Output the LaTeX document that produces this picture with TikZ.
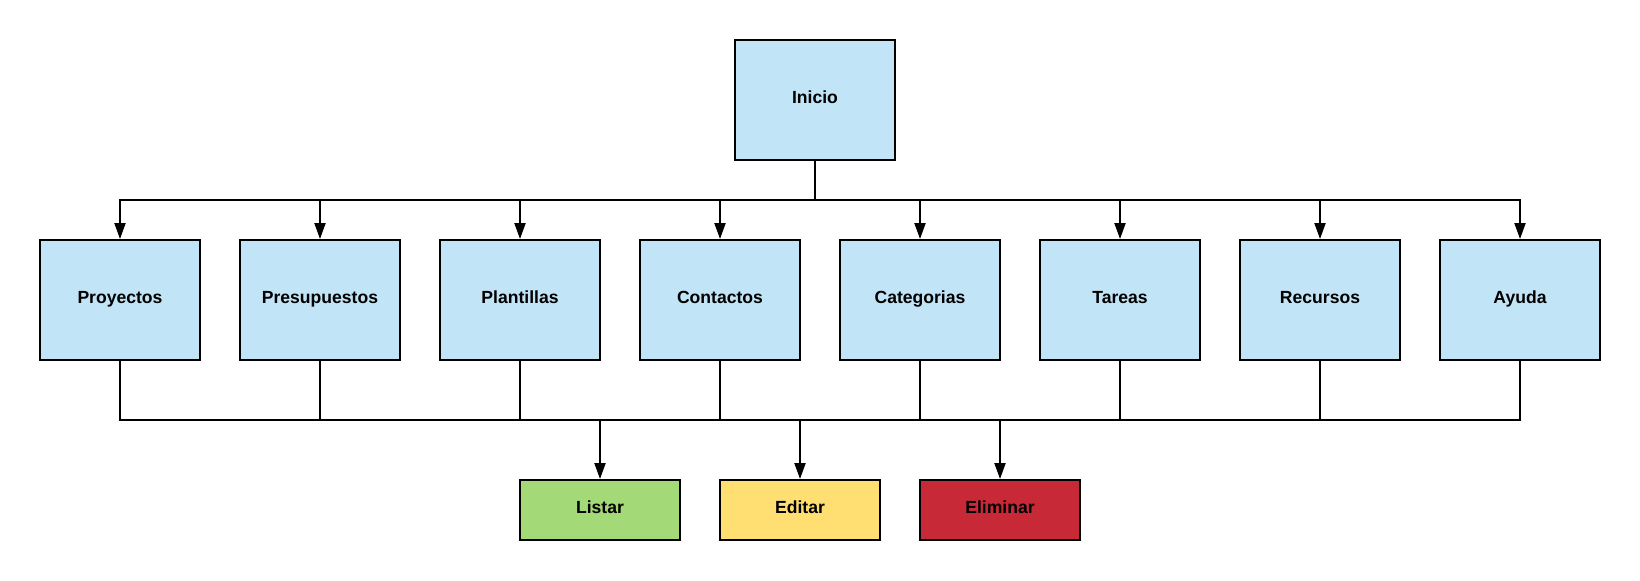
\documentclass[tikz,border=0pt]{standalone}
\usepackage{fontspec}
\setmainfont{Liberation Sans}
\usepackage{tikz}
\usepackage{xcolor}
\usetikzlibrary{positioning, arrows.meta}
\definecolor{boxBlue}{RGB}{193,228,246}
\definecolor{okGreen}{RGB}{163,217,119}
\definecolor{editYellow}{RGB}{255,223,113}
\definecolor{delRed}{RGB}{200,41,55}

\begin{document}
\begin{tikzpicture}[
  menu/.style={draw, line width=1.1pt, fill=boxBlue, minimum width=3.2cm, minimum height=2.4cm, font=\bfseries, text height=0.72em, text depth=0.34em},
  action/.style={draw, line width=1.1pt, minimum width=3.2cm, minimum height=1.2cm, font=\bfseries, text height=0.72em, text depth=0.34em},
  link/.style={line width=1.1pt},
  arr/.style={line width=1.1pt, -{Triangle[length=3.2mm, width=2.2mm]}},
]
  \useasboundingbox (0,0) rectangle (32.8,-11.6);

  \node[menu] (inicio) at (16.3,-2) {Inicio};

  \node[menu] (proyectos)    at (2.4,-6)  {Proyectos};
  \node[menu] (presupuestos) at (6.4,-6)  {Presupuestos};
  \node[menu] (plantillas)   at (10.4,-6) {Plantillas};
  \node[menu] (contactos)    at (14.4,-6) {Contactos};
  \node[menu] (categorias)   at (18.4,-6) {Categorias};
  \node[menu] (tareas)       at (22.4,-6) {Tareas};
  \node[menu] (recursos)     at (26.4,-6) {Recursos};
  \node[menu] (ayuda)        at (30.4,-6) {Ayuda};

  \node[action, fill=okGreen]    (listar)   at (12,-10.2) {Listar};
  \node[action, fill=editYellow] (editar)   at (16,-10.2) {Editar};
  \node[action, fill=delRed]     (eliminar) at (20,-10.2) {Eliminar};

  \coordinate (topbus) at (16.3,-4);
  \coordinate (botbus) at (16.3,-8.4);

  % top bus
  \draw[link] (inicio.south) -- (topbus);
  \foreach \m in {proyectos, presupuestos, plantillas, contactos, categorias, tareas, recursos, ayuda}
    \draw[arr] (topbus) -| (\m.north);

  % bottom bus
  \foreach \m in {proyectos, presupuestos, plantillas, contactos, categorias, tareas, recursos, ayuda}
    \draw[link] (\m.south) |- (botbus);
  \foreach \a in {listar, editar, eliminar}
    \draw[arr] (botbus) -| (\a.north);
\end{tikzpicture}
\end{document}
